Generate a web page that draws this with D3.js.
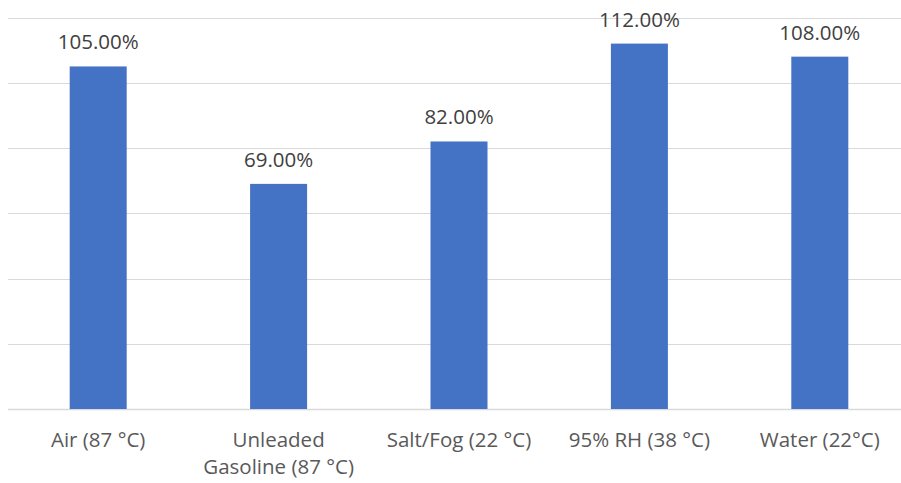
<!DOCTYPE html>
<html>
<head>
<meta charset="utf-8">
<script src="https://cdn.jsdelivr.net/npm/d3@7/dist/d3.min.js"></script>
<style>
  html, body { margin: 0; padding: 0; background: #fff; }
  svg { display: block; }
  text { font-family: "Open Sans", "Noto Sans", sans-serif; }
</style>
</head>
<body>
<svg id="chart" width="901" height="483"></svg>
<script>
// Retention by exposure condition
const categories = [
  ["Air (87 °C)"],
  ["Unleaded", "Gasoline (87 °C)"],
  ["Salt/Fog (22 °C)"],
  ["95% RH (38 °C)"],
  ["Water (22°C)"]
];
const values = [105, 69, 82, 112, 108];
const yTicks = [0, 20, 40, 60, 80, 100, 120];

const svg = d3.select("#chart");
const plot = { left: 8, right: 910, top: 17.5, bottom: 409 };

const x = d3.scaleBand()
  .domain(d3.range(categories.length))
  .range([plot.left, plot.right])
  .paddingInner(0.684)
  .paddingOuter(0.342);

const y = d3.scaleLinear()
  .domain([0, 120])
  .range([plot.bottom, plot.top]);

// horizontal gridlines
svg.append("g")
  .selectAll("line")
  .data(yTicks)
  .join("line")
  .attr("x1", plot.left)
  .attr("x2", plot.right)
  .attr("y1", d => Math.round(y(d)) + 0.5)
  .attr("y2", d => Math.round(y(d)) + 0.5)
  .attr("stroke", "#d9d9d9")
  .attr("stroke-width", d => d === 0 ? 1.5 : 1.2);

// bars
svg.append("g")
  .selectAll("rect")
  .data(values)
  .join("rect")
  .attr("x", (d, i) => x(i))
  .attr("width", x.bandwidth())
  .attr("y", d => y(d))
  .attr("height", d => y(0) - y(d))
  .attr("fill", "#4472c4");

// value labels
svg.append("g")
  .selectAll("text")
  .data(values)
  .join("text")
  .attr("x", (d, i) => x(i) + x.bandwidth() / 2)
  .attr("y", d => y(d) - 17)
  .attr("text-anchor", "middle")
  .attr("font-size", 20.5)
  .attr("fill", "#404040")
  .text(d => d.toFixed(2) + "%");

// category labels
const cat = svg.append("g")
  .selectAll("text")
  .data(categories)
  .join("text")
  .attr("x", (d, i) => x(i) + x.bandwidth() / 2)
  .attr("y", 447)
  .attr("text-anchor", "middle")
  .attr("font-size", 20.5)
  .attr("fill", "#595959");
cat.selectAll("tspan")
  .data(d => d)
  .join("tspan")
  .attr("x", function () { return d3.select(this.parentNode).attr("x"); })
  .attr("dy", (d, i) => i === 0 ? 0 : 26.5)
  .text(d => d);
</script>
</body>
</html>
